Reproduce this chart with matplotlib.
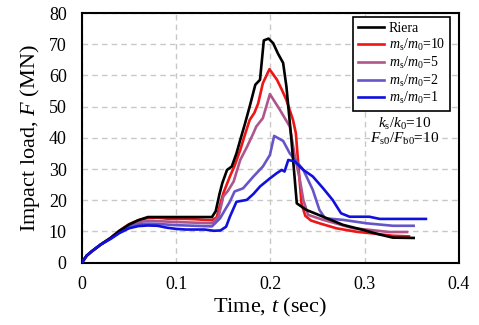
import matplotlib
matplotlib.use("Agg")
import matplotlib.pyplot as plt

plt.rcParams['font.family'] = ['Liberation Serif', 'DejaVu Serif']
plt.rcParams['mathtext.fontset'] = 'custom'
plt.rcParams['mathtext.rm'] = 'Liberation Serif'
plt.rcParams['mathtext.it'] = 'Liberation Serif:italic'

# Riera
t_riera = [0, 0.005, 0.01, 0.02, 0.03, 0.04, 0.05, 0.06, 0.07, 0.08, 0.1, 0.12, 0.138, 0.142, 0.146,
           0.149, 0.154, 0.159, 0.164, 0.168, 0.173, 0.178, 0.184, 0.189, 0.193, 0.198, 0.203, 0.208,
           0.2135, 0.217, 0.222, 0.228, 0.238, 0.256, 0.277, 0.298, 0.316, 0.33, 0.352]
F_riera = [0, 2.2, 3.5, 5.8, 7.8, 10.2, 12.2, 13.6, 14.6, 14.6, 14.6, 14.6, 14.6, 16.5, 22,
           25.5, 29.7, 30.8, 35, 39.3, 44.5, 50, 57, 58.6, 71.2, 71.8, 70.3, 67,
           64, 56.4, 40.4, 19, 16.9, 14.7, 12.1, 10.5, 9.0, 8.0, 7.9]

# ms/m0 = 10
t_m10 = [0, 0.005, 0.01, 0.02, 0.03, 0.04, 0.05, 0.06, 0.07, 0.08, 0.09, 0.1, 0.11, 0.12, 0.13,
         0.138, 0.143, 0.147, 0.150, 0.157, 0.162, 0.168, 0.173, 0.178, 0.183, 0.187, 0.192, 0.199,
         0.207, 0.212, 0.217, 0.224, 0.227, 0.230, 0.233, 0.237, 0.243, 0.252, 0.27, 0.291, 0.31,
         0.33, 0.347]
F_m10 = [0, 2.2, 3.5, 5.8, 7.8, 10.3, 12.3, 13.6, 14.3, 14.4, 14.1, 14.0, 14.0, 13.9, 13.7,
         13.6, 14.5, 19, 22.2, 27.6, 31, 36.1, 41, 45.7, 48, 51, 57.5, 62,
         58.6, 55.5, 52.1, 45.7, 41.5, 30, 19, 15, 13.5, 12.6, 11, 9.9, 9.3,
         8.6, 8.4]

# ms/m0 = 5
t_m5 = [0, 0.005, 0.01, 0.02, 0.03, 0.04, 0.05, 0.06, 0.07, 0.08, 0.1, 0.12, 0.138, 0.145, 0.150,
        0.155, 0.161, 0.168, 0.175, 0.182, 0.185, 0.192, 0.1995, 0.21, 0.2206, 0.226, 0.231, 0.235,
        0.24, 0.256, 0.288, 0.305, 0.326, 0.345]
F_m5 = [0, 2.2, 3.5, 5.8, 7.8, 10.2, 12.0, 13.0, 13.4, 13.3, 13.0, 12.8, 12.6, 14.7, 21.2,
        23, 26, 32.9, 37, 41.5, 43.6, 46.3, 54, 49, 43.6, 34, 27, 20,
        15.3, 13.7, 11, 10.5, 9.8, 9.8]

# ms/m0 = 2
t_m2 = [0, 0.005, 0.01, 0.02, 0.03, 0.04, 0.05, 0.06, 0.07, 0.08, 0.1, 0.12, 0.138, 0.1466, 0.152,
        0.157, 0.162, 0.171, 0.182, 0.192, 0.1995, 0.204, 0.2135, 0.2206, 0.235, 0.245, 0.252,
        0.258, 0.277, 0.302, 0.33, 0.352]
F_m2 = [0, 2.2, 3.5, 5.8, 7.8, 10.0, 11.6, 12.3, 12.5, 12.4, 12.0, 11.8, 11.6, 14.2, 17,
        19.5, 22.8, 23.8, 27.6, 30.8, 34.5, 40.6, 39, 35, 29.7, 23.3, 16.9,
        14.2, 13.7, 12.6, 11.8, 11.8]

# ms/m0 = 1
t_m1 = [0, 0.005, 0.01, 0.02, 0.03, 0.04, 0.05, 0.06, 0.07, 0.08, 0.09, 0.1, 0.11, 0.12, 0.13,
        0.14, 0.147, 0.153, 0.157, 0.164, 0.175, 0.182, 0.189, 0.1995, 0.2065, 0.212, 0.215, 0.219,
        0.226, 0.235, 0.245, 0.256, 0.266, 0.275, 0.284, 0.305, 0.316, 0.34, 0.365]
F_m1 = [0, 2.2, 3.5, 5.8, 7.5, 9.5, 11, 11.7, 11.9, 11.8, 11.2, 10.8, 10.6, 10.6, 10.6,
        10.2, 10.3, 11.5, 14.7, 19.5, 20.1, 22, 24.4, 27, 28.6, 29.7, 29.2, 32.9,
        32.4, 29.7, 27.6, 23.8, 20.1, 15.8, 14.7, 14.7, 14.0, 14.0, 14.0]

labels = ['Riera', r'$m_{\rm s}/m_0$=10', r'$m_{\rm s}/m_0$=5', r'$m_{\rm s}/m_0$=2', r'$m_{\rm s}/m_0$=1']
colors = ['#000000', '#ee1515', '#b0558c', '#6655c8', '#1010dd']

fig = plt.figure(figsize=(4.79, 3.25), dpi=100)
ax = fig.add_axes([0.171, 0.192, 0.787, 0.768])

series = [(t_riera, F_riera), (t_m10, F_m10), (t_m5, F_m5), (t_m2, F_m2), (t_m1, F_m1)]
order = [4, 3, 2, 0, 1]
handles = [None] * 5
for i in order:
    t, F = series[i]
    h, = ax.plot(t, F, color=colors[i], lw=1.9, label=labels[i], zorder=3 + i if i else 6)
    handles[i] = h

ax.set_xlim(0, 0.4)
ax.set_ylim(0, 80)
ax.set_xticks([0, 0.1, 0.2, 0.3, 0.4])
ax.set_xticklabels(['0', '0.1', '0.2', '0.3', '0.4'])
ax.set_yticks(range(0, 81, 10))
ax.tick_params(axis='y', labelsize=13, length=0, pad=11)
ax.tick_params(axis='x', labelsize=13, length=0, pad=10)
ax.grid(True, color='#c8c8c8', linestyle=(0, (4, 3)), lw=1.0)
for s in ax.spines.values():
    s.set_linewidth(1.5)
    s.set_color('black')

ax.set_xlabel(r'Time, $t$ (sec)', fontsize=16, labelpad=2)
ax.set_ylabel(r'Impact load, $F$ (MN)', fontsize=16, labelpad=5)

leg = ax.legend(handles=handles, loc='upper right', bbox_to_anchor=(0.977, 0.982), fontsize=10,
                frameon=True, fancybox=False, edgecolor='black', framealpha=1,
                handlelength=1.9, handletextpad=0.35, borderpad=0.35, labelspacing=0.12,
                borderaxespad=0)
leg.get_frame().set_linewidth(1.2)

ax.text(0.342, 44.3, r'$k_{\rm s}/k_0$=10', fontsize=11, ha='center', va='center')
ax.text(0.342, 39.6, r'$F_{\rm s0}/F_{\rm b0}$=10', fontsize=11, ha='center', va='center')

fig.savefig('out.png', dpi=100)
